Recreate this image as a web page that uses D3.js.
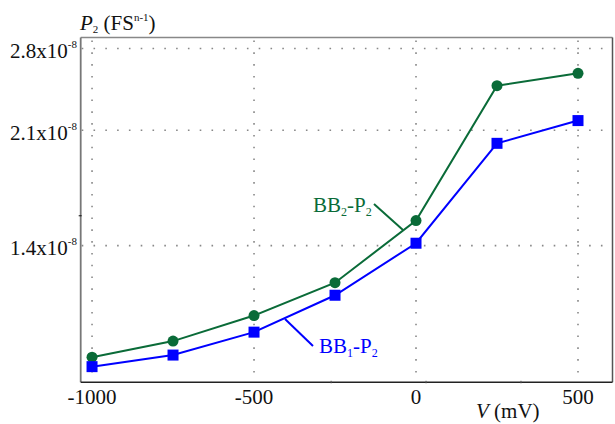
<!DOCTYPE html>
<html>
<head>
<meta charset="utf-8">
<script src="https://cdn.jsdelivr.net/npm/d3@7"></script>
<style>
  body { margin: 0; background: #fff; }
  svg text { font-family: "Liberation Serif", "Times New Roman", serif; }
</style>
</head>
<body>
<script>
  // values
  const voltages = [-1000, -750, -500, -250, 0, 250, 500]
  const bb2 = [0.946e-8, 1.001e-8, 1.095e-8, 1.229e-8, 1.529e-8, 2.457e-8, 2.566e-8]
  const bb1 = [0.915e-8, 0.953e-8, 1.033e-8, 1.176e-8, 1.412e-8, 2.006e-8, 2.173e-8]
  const xTicks = [-1000, -500, 0, 500]
  const yTicks = [1.4e-8, 2.1e-8, 2.8e-8]
  const yTickLabels = ['1.4x10', '2.1x10', '2.8x10']
  const xMinor = [-262, 31, 324]
  const yMinor = [1.555e-8];

(function () {
  const W = 615, H = 424
  const green = '#0a6b38', blue = '#0000ff'

  const svg = d3.select('body').append('svg')
                .attr('width', W)
                .attr('height', H)

  const x = d3.scaleLinear().domain([-1035, 606.5]).range([80.7, 612.5])
  const y = d3.scaleLog().domain([0.866e-8, 2.91e-8]).range([382.3, 37.5])

  const left = x.range()[0], right = x.range()[1]
  const yTop = y.range()[1], yBot = y.range()[0]

  // dotted grid
  svg.selectAll('.vgrid')
     .data(xTicks)
     .enter()
     .append('line')
     .attr('x1', d => x(d)).attr('x2', d => x(d))
     .attr('y1', yTop + 3).attr('y2', yBot - 1)
     .attr('stroke', '#888')
     .attr('stroke-width', 1.6)
     .attr('stroke-dasharray', '1.6,10.2')

  svg.selectAll('.hgrid')
     .data(yTicks)
     .enter()
     .append('line')
     .attr('x1', left + 1).attr('x2', right - 6)
     .attr('y1', d => y(d)).attr('y2', d => y(d))
     .attr('stroke', '#888')
     .attr('stroke-width', 1.6)
     .attr('stroke-dasharray', '1.6,10.2')

  // frame
  svg.append('line').attr('x1', left).attr('x2', right).attr('y1', yTop).attr('y2', yTop)
     .attr('stroke', '#888').attr('stroke-width', 1.5)
  svg.append('line').attr('x1', right).attr('x2', right).attr('y1', yTop).attr('y2', yBot)
     .attr('stroke', '#555').attr('stroke-width', 1.5)
  svg.append('line').attr('x1', left).attr('x2', left).attr('y1', yTop).attr('y2', yBot)
     .attr('stroke', '#777').attr('stroke-width', 1.8)
  svg.append('line').attr('x1', left).attr('x2', right).attr('y1', yBot).attr('y2', yBot)
     .attr('stroke', '#222').attr('stroke-width', 1.5)

  // minor ticks
  svg.selectAll('.xminor')
     .data(xMinor)
     .enter()
     .append('line')
     .attr('x1', d => x(d)).attr('x2', d => x(d))
     .attr('y1', yBot - 1.5).attr('y2', yBot + 1)
     .attr('stroke', '#555')
  svg.selectAll('.yminor')
     .data(yMinor)
     .enter()
     .append('line')
     .attr('x1', left - 2).attr('x2', left + 1)
     .attr('y1', d => y(d)).attr('y2', d => y(d))
     .attr('stroke', '#111')

  // tick labels
  svg.selectAll('.xlab')
     .data(xTicks)
     .enter()
     .append('text')
     .attr('x', d => x(d))
     .attr('y', 404)
     .attr('text-anchor', 'middle')
     .attr('font-size', 21)
     .attr('fill', '#111')
     .text(d => d)

  const yl = svg.selectAll('.ylab')
                .data(yTicks)
                .enter()
                .append('text')
                .attr('x', 77)
                .attr('y', d => y(d) + 9.5)
                .attr('text-anchor', 'end')
                .attr('font-size', 21)
                .attr('fill', '#111')
  yl.append('tspan').text((d, i) => yTickLabels[i])
  yl.append('tspan').attr('font-size', 11).attr('dy', -10).text('-8')

  // axis titles
  const yt = svg.append('text').attr('x', 80).attr('y', 30).attr('font-size', 21).attr('fill', '#111')
  yt.append('tspan').attr('font-style', 'italic').text('P')
  yt.append('tspan').attr('font-size', 11).attr('dy', 3).text('2')
  yt.append('tspan').attr('dy', -3).text(' (FS')
  yt.append('tspan').attr('font-size', 11).attr('dy', -9).text('n-1')
  yt.append('tspan').attr('dy', 9).text(')')

  const xt = svg.append('text').attr('x', 476).attr('y', 418).attr('font-size', 21).attr('fill', '#111')
  xt.append('tspan').attr('font-style', 'italic').text('V')
  xt.append('tspan').text(' (mV)')

  // series
  const line = d3.line()
                 .x(d => x(d[0]))
                 .y(d => y(d[1]))

  const g2 = voltages.map((v, i) => [v, bb2[i]])
  const g1 = voltages.map((v, i) => [v, bb1[i]])

  svg.append('path').datum(g2)
     .attr('d', line).attr('fill', 'none').attr('stroke', green).attr('stroke-width', 2)
  svg.append('path').datum(g1)
     .attr('d', line).attr('fill', 'none').attr('stroke', blue).attr('stroke-width', 2)

  svg.selectAll('.pt2')
     .data(g2)
     .enter()
     .append('circle')
     .attr('cx', d => x(d[0]))
     .attr('cy', d => y(d[1]))
     .attr('r', 5.5)
     .attr('fill', green)

  svg.selectAll('.pt1')
     .data(g1)
     .enter()
     .append('rect')
     .attr('x', d => x(d[0]) - 5.5)
     .attr('y', d => y(d[1]) - 5.5)
     .attr('width', 11)
     .attr('height', 11)
     .attr('fill', blue)

  // annotations
  svg.append('line').attr('x1', 374).attr('y1', 204).attr('x2', 403).attr('y2', 230)
     .attr('stroke', green).attr('stroke-width', 2)
  svg.append('line').attr('x1', 313).attr('y1', 346).attr('x2', 285).attr('y2', 319)
     .attr('stroke', blue).attr('stroke-width', 2)

  const a2 = svg.append('text').attr('x', 313).attr('y', 212).attr('font-size', 21).attr('fill', green)
  a2.append('tspan').text('BB')
  a2.append('tspan').attr('font-size', 12).attr('dy', 4).text('2')
  a2.append('tspan').attr('dy', -4).text('-P')
  a2.append('tspan').attr('font-size', 12).attr('dy', 4).text('2')

  const a1 = svg.append('text').attr('x', 319).attr('y', 353).attr('font-size', 21).attr('fill', blue)
  a1.append('tspan').text('BB')
  a1.append('tspan').attr('font-size', 12).attr('dy', 4).text('1')
  a1.append('tspan').attr('dy', -4).text('-P')
  a1.append('tspan').attr('font-size', 12).attr('dy', 4).text('2')
})()
</script>
</body>
</html>
